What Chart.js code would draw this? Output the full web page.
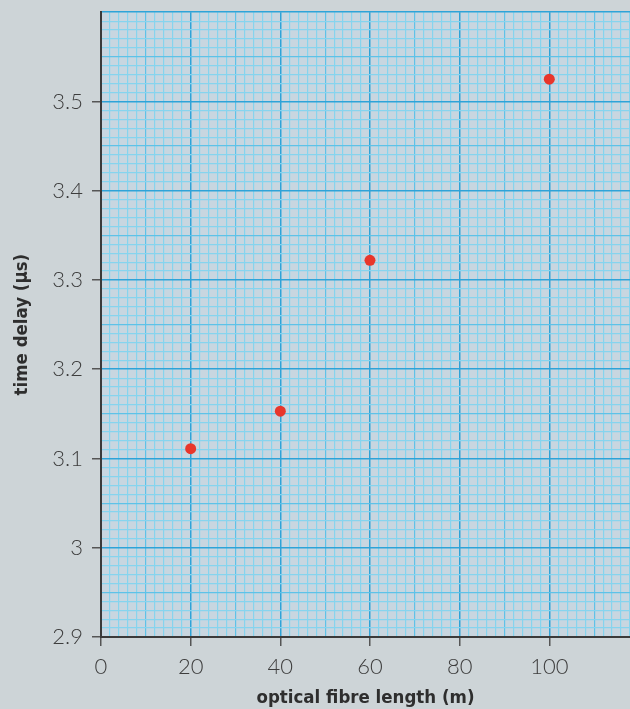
<!DOCTYPE html>
<html>
<head>
<meta charset="utf-8">
<script src="https://cdn.jsdelivr.net/npm/chart.js@4"></script>
<style>
  body { margin: 0; background: #cdd4d7; overflow: hidden; }
  #wrap { width: 630px; height: 709px; overflow: hidden; }
  #chart { display: block; margin-top: -10px; }
</style>
</head>
<body>
<div id="wrap"><canvas id="chart" width="638" height="719"></canvas></div>
<script>
const fibreLength = [20, 40, 60, 100];
const timeDelay = [3.111, 3.153, 3.322, 3.525];

// tick labels shown on the axes
const xTickLabels = [0, 20, 40, 60, 80, 100];
const yTickLabels = ['2.9', '3', '3.1', '3.2', '3.3', '3.4', '3.5'];

// graph paper colours
const paperColor = '#c8d6e0';
const majorLine = '#2ea3d8';
const midLine = '#5ec2e8';
const minorLine = '#86d4ee';

function xKind(v) {
  const n = Math.round(v);
  if (n % 20 === 0) return 2;
  if (n % 10 === 0) return 1;
  return 0;
}
function yKind(v) {
  const n = Math.round(v * 100);
  if (n % 10 === 0) return 2;
  if (n % 5 === 0) return 1;
  return 0;
}
function yLabel(v) {
  const s = String(Math.round(v * 10) / 10);
  return Math.round(v * 100) % 10 === 0 && yTickLabels.includes(s) ? s : '';
}

// fill plot area like graph paper
const paperBg = {
  id: 'paperBg',
  beforeDraw(chart) {
    const a = chart.chartArea;
    const c = chart.ctx;
    c.save();
    c.fillStyle = paperColor;
    c.fillRect(a.left, a.top, a.right - a.left, a.bottom - a.top);
    c.restore();
  }
};

const tickFont = { family: 'Lato, "Liberation Sans", sans-serif', size: 22, weight: 300 };
const titleFont = { family: '"DejaVu Sans Condensed", sans-serif', size: 18.5, weight: 'bold' };

let ctx = document.getElementById('chart').getContext('2d');
let myChart = new Chart(ctx, {
  type: 'scatter',
  data: {
    datasets: [{
      data: fibreLength.map((x, i) => ({ x: x, y: timeDelay[i] })),
      backgroundColor: '#e8362b',
      borderColor: '#e8362b',
      borderWidth: 0,
      pointRadius: 5.5
    }]
  },
  plugins: [paperBg],
  options: {
    responsive: false,
    animation: false,
    layout: { padding: 0 },
    plugins: { legend: { display: false }, tooltip: { enabled: false } },
    scales: {
      x: {
        type: 'linear',
        min: 0,
        max: 118,
        afterFit(scale) { scale.height = 72; },
        border: { color: '#3a3a3a', width: 2 },
        grid: {
          color: c => [minorLine, midLine, majorLine][xKind(c.tick.value)],
          lineWidth: c => xKind(c.tick.value) === 2 ? 1.5 : 1.2,
          tickColor: c => xKind(c.tick.value) === 2 && c.tick.value <= 100 ? '#555' : 'transparent',
          tickLength: 9,
          tickWidth: 1.5
        },
        ticks: {
          stepSize: 2,
          autoSkip: false,
          maxRotation: 0,
          padding: 8,
          color: '#3d3d3d',
          font: tickFont,
          callback: v => xTickLabels.includes(Math.round(v)) && Math.abs(v - Math.round(v)) < 1e-6 ? String(Math.round(v)) : ''
        },
        title: {
          display: true,
          text: 'optical fibre length (m)',
          color: '#2e2e2e',
          font: titleFont,
          padding: { top: 0, bottom: 0 }
        }
      },
      y: {
        type: 'linear',
        min: 2.9,
        max: 3.6,
        afterFit(scale) { scale.width = 101; },
        border: { color: '#3a3a3a', width: 2 },
        grid: {
          color: c => [minorLine, midLine, majorLine][yKind(c.tick.value)],
          lineWidth: c => yKind(c.tick.value) === 2 ? 1.5 : 1.2,
          tickColor: c => yLabel(c.tick.value) !== '' ? '#555' : 'transparent',
          tickLength: 9,
          tickWidth: 1.5
        },
        ticks: {
          stepSize: 0.01,
          autoSkip: false,
          padding: 9,
          color: '#3d3d3d',
          font: tickFont,
          callback: v => yLabel(v)
        },
        title: {
          display: true,
          text: 'time delay (μs)',
          color: '#2e2e2e',
          font: titleFont,
          padding: { top: 11, bottom: 0 }
        }
      }
    }
  }
});
</script>
</body>
</html>
